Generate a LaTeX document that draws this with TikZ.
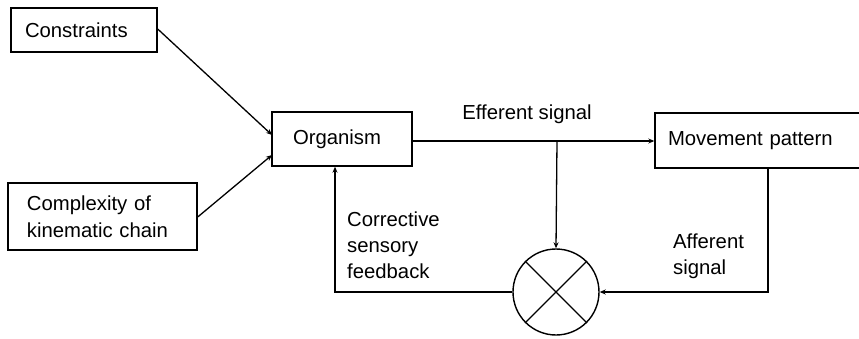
\documentclass[tikz,border=0pt]{standalone}
\usepackage{fontspec}
\setmainfont{Liberation Sans}
\usetikzlibrary{arrows.meta,calc}
\begin{document}
\begin{tikzpicture}[x=1pt,y=-1pt,
  box/.style={draw,line width=1.4pt,rectangle,inner sep=0pt,font=\fontsize{20.3}{27}\selectfont},
  lbl/.style={inner sep=0pt,font=\fontsize{20.3}{26}\selectfont,align=left},
  conn/.style={line width=1.3pt},
  arr/.style={conn,-{Stealth[length=6pt,width=5pt]}}]
\useasboundingbox (0,0) rectangle (859,339);
\node[box,minimum width=146pt,minimum height=44pt,text width=118pt,align=left] (con) at (84,30) {Constraints};
\node[box,minimum width=189pt,minimum height=67pt,text width=151pt,align=left] (cpx) at (102.5,216.5) {Complexity of\\kinematic chain};
\node[box,minimum width=140pt,minimum height=54pt,text width=98pt,align=left] (org) at (342,139) {Organism};
\node[box,minimum width=207pt,minimum height=55pt,text width=181pt,align=left] (mov) at (758.5,140.5) {Movement pattern};
\node[draw,circle,line width=1.4pt,minimum size=86pt,inner sep=0pt] (cmp) at (556,292) {};
\draw[conn] (cmp.45) -- (cmp.225);
\draw[conn] (cmp.135) -- (cmp.315);
\coordinate (c1) at (157,29);
\coordinate (c2) at (272,135);
\coordinate (k1) at (197,217);
\coordinate (k2) at (272,155);
\draw[arr] (con.east |- c1) -- (c2);
\draw[arr] (cpx.east |- k1) -- (k2);
\coordinate (br) at (557,141);
\draw[arr] (org.east |- br) -- (mov.west |- br);
\draw[arr] (br) -- (cmp.north);
\coordinate (fb) at (335,292);
\draw[arr] (cmp.west) -- (fb) -- (org.south -| fb);
\coordinate (af) at (768,292);
\draw[arr] (mov.south -| af) -- (af) -- (cmp.east);
\node[lbl,anchor=base] (eff) at (527,120) {Efferent signal};
\node[lbl,anchor=north west] (csf) at (347,212) {Corrective\\sensory\\feedback};
\node[lbl,anchor=north west] (afs) at (673,234) {Afferent\\signal};
\end{tikzpicture}
\end{document}
